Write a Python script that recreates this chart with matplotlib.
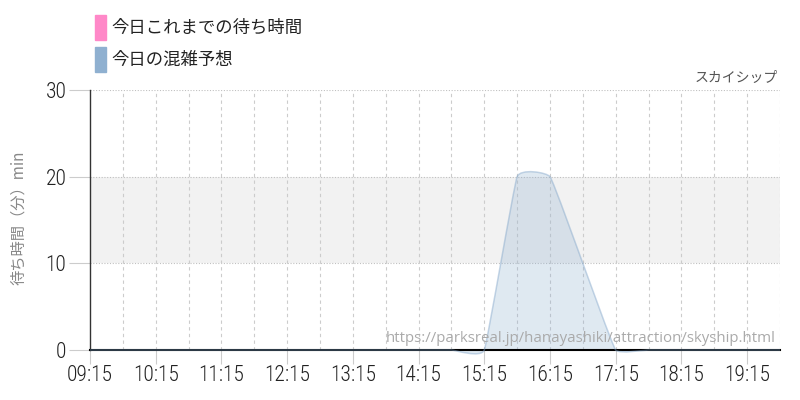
import matplotlib
matplotlib.use("Agg")
import matplotlib.pyplot as plt
from matplotlib.path import Path
from matplotlib.patches import PathPatch, Rectangle
from matplotlib.ticker import FixedLocator
from matplotlib import font_manager as fm
import numpy as np

# ---- data ----
times = [9.25, 9.75, 10.25, 10.75, 11.25, 11.75, 12.25, 12.75, 13.25, 13.75,
         14.25, 14.75, 15.25, 15.75, 16.25, 16.75, 17.25, 17.75, 18.25, 18.75,
         19.25, 19.75]
forecast = [0, 0, 0, 0, 0, 0, 0, 0, 0, 0,
            0, 0, 0, 20, 20, 10, 0, 0, 0, 0,
            0, 0]
tick_hours = [9.25, 10.25, 11.25, 12.25, 13.25, 14.25, 15.25, 16.25, 17.25, 18.25, 19.25]
tick_labels = ["09:15", "10:15", "11:15", "12:15", "13:15", "14:15", "15:15",
               "16:15", "17:15", "18:15", "19:15"]
minor_hours = [9.75, 10.75, 11.75, 12.75, 13.75, 14.75, 15.75, 16.75, 17.75, 18.75, 19.75]
y_ticks = [0, 10, 20, 30]
legend_labels = ["今日これまでの待ち時間", "今日の混雑予想"]
legend_colors = ["#ff88c8", "#8fb0d0"]
title = "スカイシップ"
ylabel = "待ち時間（分）min"
url = "https://parksreal.jp/hanayashiki/attraction/skyship.html"

installed = {f.name for f in fm.fontManager.ttflist}
cond_candidates = ["Roboto Condensed", "Liberation Sans Narrow", "DejaVu Sans"]
num_family = next(f for f in cond_candidates if f in installed or f == "DejaVu Sans")
jp_font = ["Noto Sans CJK JP", "DejaVu Sans"]

fig = plt.figure(figsize=(8, 4), dpi=100)
ax = fig.add_axes([90/800, 1-350/400, 690/800, 260/400])
ax.set_xlim(9.25, 19.75)
ax.set_ylim(0, 30)

# band between 10 and 20
ax.axhspan(10, 20, color="#f2f2f2", zorder=0, lw=0)

# grids
for yv in [10, 20, 30]:
    ax.axhline(yv, color="#c0c0c0", lw=0.8, ls=(0, (1, 1.5)), zorder=1)
for xv in tick_hours[1:] + minor_hours:
    ax.axvline(xv, color="#cccccc", lw=0.8, ls=(0, (3, 3)), zorder=1)

# smooth forecast curve: cardinal spline (low tension) through the data points
P = np.column_stack([times, forecast]).astype(float)
n = len(P)
k = 0.3
verts = [P[0]]
codes = [Path.MOVETO]
for i in range(n-1):
    p0 = P[max(i-1, 0)]
    p1 = P[i]
    p2 = P[i+1]
    p3 = P[min(i+2, n-1)]
    c1 = p1 + k*(p2-p0)/6
    c2 = p2 - k*(p3-p1)/6
    verts += [c1, c2, p2]
    codes += [Path.CURVE4]*3
verts = np.array(verts)
line_path = Path(verts, codes)
fill_verts = np.vstack([verts, [[times[-1], 0], [times[0], 0], [times[0], 0]]])
fill_codes = codes + [Path.LINETO, Path.LINETO, Path.CLOSEPOLY]
ax.add_patch(PathPatch(Path(fill_verts, fill_codes), facecolor=(143/255, 176/255, 208/255, 0.28),
                       edgecolor="none", zorder=2, clip_on=False))
ax.add_patch(PathPatch(line_path, facecolor="none", edgecolor=(130/255, 166/255, 202/255, 0.45),
                       lw=1.1, zorder=5, clip_on=False))

# spines
for sp in ["top", "right"]:
    ax.spines[sp].set_visible(False)
ax.spines["left"].set_color("#333333")
ax.spines["left"].set_linewidth(1.0)
ax.spines["bottom"].set_color("#000000")
ax.spines["bottom"].set_linewidth(1.5)
ax.spines["bottom"].set_zorder(4)

ax.xaxis.set_major_locator(FixedLocator(tick_hours))
ax.set_xticklabels(tick_labels)
ax.yaxis.set_major_locator(FixedLocator(y_ticks))
ax.set_yticklabels([str(v) for v in y_ticks])
ax.tick_params(axis="x", length=10, color="#cccccc", width=0.8, pad=1, labelsize=15.5, labelcolor="#222222")
ax.tick_params(axis="y", length=15, color="#cccccc", width=0.8, pad=2, labelsize=15.5, labelcolor="#222222")
for lab in ax.get_xticklabels() + ax.get_yticklabels():
    lab.set_family(num_family)
    lab.set_fontweight("light")

ax.set_ylabel(ylabel, family=jp_font, fontsize=11, color="#888888")
ax.yaxis.set_label_coords(-63/690, 0.51)

# legend
for i, (lab, col) in enumerate(zip(legend_labels, legend_colors)):
    y0 = 15 + i*32
    fig.patches.append(Rectangle((95/800, 1-(y0+25)/400), 11/800, 25/400,
                                 transform=fig.transFigure, color=col, figure=fig))
    fig.text(111/800, 1-(y0+13)/400, lab, family=jp_font, fontsize=12.5,
             color="#222222", va="center", ha="left")

fig.text(778/800, 1-78/400, title, family=jp_font, fontsize=10, color="#555555",
         ha="right", va="center")
fig.text(776/800, 1-338/400, url, family=["Open Sans", "DejaVu Sans"], fontsize=10.8,
         color="#aaaaaa", ha="right", va="center")

fig.savefig("out.png", dpi=100)
